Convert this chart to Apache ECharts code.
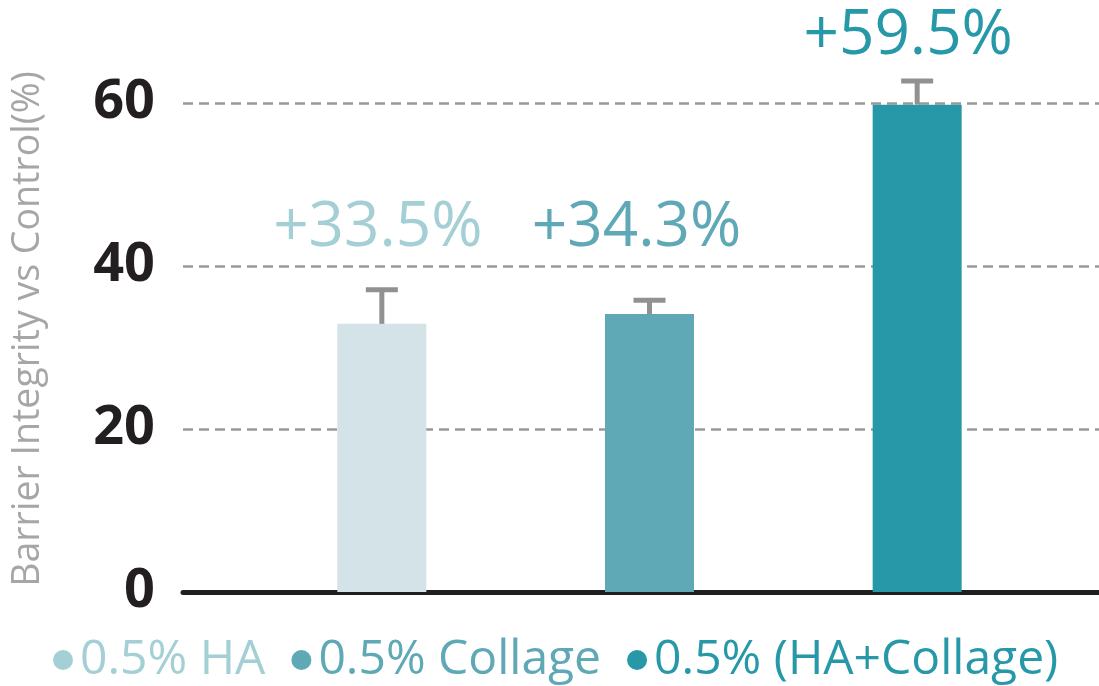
<!DOCTYPE html>
<html>
<head>
<meta charset="utf-8">
<script src="https://cdn.jsdelivr.net/npm/echarts@6/dist/echarts.min.js"></script>
<style>
  html, body { margin: 0; padding: 0; background: #fff; }
  #chart { width: 1099px; height: 686px; }
</style>
</head>
<body>
<div id="chart"></div>
<script>
const categories = ['0.5% HA', '0.5% Collage', '0.5% (HA+Collage)'];
const barValues = [32.9, 34.1, 59.8];
const errorTops = [37.1, 35.8, 62.7];
const changeLabels = ['+33.5%', '+34.3%', '+59.5%'];
const yTicks = [0, 20, 40, 60];

const barColors = ['#d3e3e8', '#5fa8b5', '#2698a8'];
const textColors = ['#a3cfd5', '#5fa8b5', '#2698a8'];
// nudges for the % labels, px from the bar top
const labelShift = [[-4, -96], [-13, -86], [-9, -68]];

const chart = echarts.init(document.getElementById('chart'));

const barSeries = categories.map((name, i) => ({
  name,
  type: 'bar',
  stack: 'one',
  xAxisIndex: 1,
  yAxisIndex: 1,
  barWidth: 89,
  itemStyle: { color: barColors[i] },
  label: {
    show: true,
    position: 'top',
    distance: 0,
    verticalAlign: 'middle',
    offset: labelShift[i],
    formatter: changeLabels[i],
    color: textColors[i],
    fontSize: 62,
    fontFamily: 'Open Sans',
  },
  data: categories.map((c, j) => (j === i ? barValues[i] : '-')),
}));

const errorSeries = {
  type: 'custom',
  xAxisIndex: 1,
  yAxisIndex: 1,
  z: 3,
  data: barValues.map((v, i) => [i, v, errorTops[i]]),
  renderItem(params, api) {
    const base = api.coord([api.value(0), api.value(1)]);
    const top = api.coord([api.value(0), api.value(2)]);
    const style = { stroke: '#919191', lineWidth: 5 };
    return {
      type: 'group',
      children: [
        { type: 'line', shape: { x1: base[0], y1: base[1], x2: top[0], y2: top[1] }, style },
        { type: 'line', shape: { x1: top[0] - 16, y1: top[1], x2: top[0] + 16, y2: top[1] }, style },
      ],
    };
  },
};

chart.setOption({
  animation: false,
  textStyle: { fontFamily: 'Open Sans' },
  grid: [
    { left: 183, right: 0, top: 103, bottom: 94 },
    { left: 248, right: 48, top: 103, bottom: 94 },
  ],
  legend: {
    left: 48,
    top: 631,
    icon: 'circle',
    itemWidth: 20,
    itemHeight: 20,
    itemGap: 26,
    textStyle: { fontSize: 48, fontFamily: 'Open Sans', padding: [0, 0, 0, 2] },
    data: categories.map((name, i) => ({
      name,
      itemStyle: { color: textColors[i] },
      textStyle: { color: textColors[i] },
    })),
  },
  xAxis: [{
    gridIndex: 0,
    type: 'value',
    min: 0,
    max: 1,
    axisLine: { show: true, onZero: false, lineStyle: { color: '#231f20', width: 5 } },
    axisTick: { show: false },
    axisLabel: { show: false },
    splitLine: { show: false },
  }, {
    gridIndex: 1,
    type: 'category',
    data: categories,
    show: false,
  }],
  yAxis: [{
    gridIndex: 0,
    type: 'value',
    min: yTicks[0],
    max: yTicks[yTicks.length - 1],
    interval: yTicks[1] - yTicks[0],
    name: 'Barrier Integrity vs Control(%)',
    nameLocation: 'middle',
    nameGap: 136,
    nameTextStyle: { fontSize: 37.5, color: '#a6a6a6', fontFamily: 'Open Sans', padding: [0, 0, 0, 37] },
    axisLine: { show: false },
    axisTick: { show: false },
    axisLabel: { fontSize: 54, fontWeight: 'bold', color: '#231f20', margin: 28, fontFamily: 'Open Sans' },
    splitLine: { lineStyle: { type: [10, 6], color: '#999999', width: 2.5 } },
  }, {
    gridIndex: 1,
    type: 'value',
    min: yTicks[0],
    max: yTicks[yTicks.length - 1],
    show: false,
  }],
  series: [...barSeries, errorSeries],
});
</script>
</body>
</html>
